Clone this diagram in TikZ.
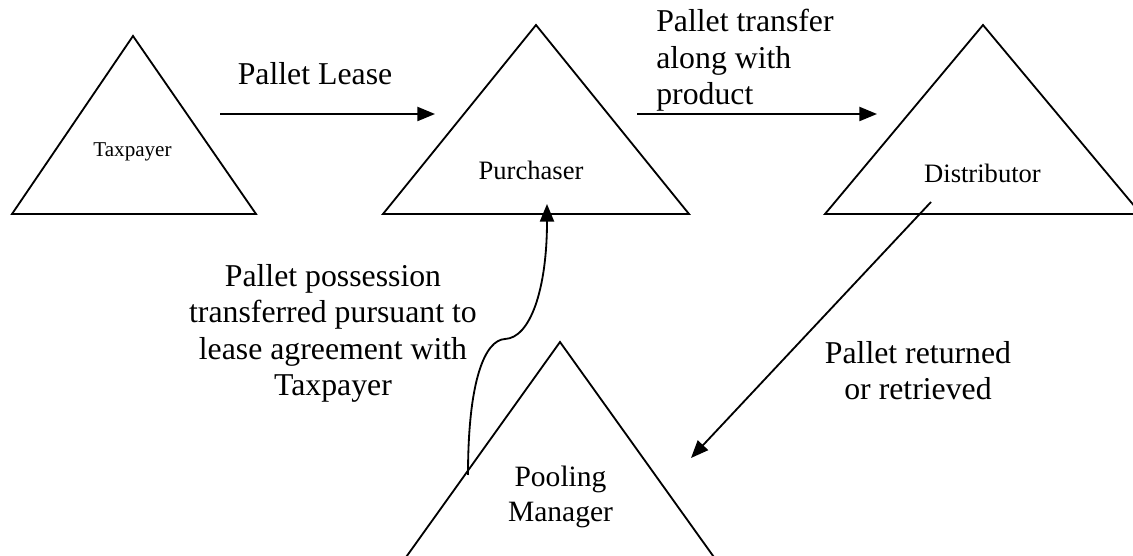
\documentclass[tikz,border=0pt]{standalone}
\usepackage{fontspec}
\setmainfont{Liberation Serif}
\usetikzlibrary{arrows.meta}

\tikzset{
	party/.style={line width=1.3pt, line join=miter},
	flow/.style={line width=1.3pt, -{Triangle[length=12.5pt,width=10pt]}},
	flowtext/.style={inner sep=0pt, font=\fontsize{22.6}{26}\selectfont},
	partytext/.style={inner sep=0pt, anchor=base}
}

\begin{document}
\begin{tikzpicture}[x=0.025cm, y=-0.025cm]
	\clip (0,0) rectangle (1133,556);
	% the four parties
	\draw[party] (12,214) -- (133,36) -- (256,214) -- cycle;
	\draw[party] (383,214) -- (536,25) -- (689,214) -- cycle;
	\draw[party] (825,214) -- (983,25) -- (1141,214) -- cycle;
	\draw[party] (404,560) -- (560,342) -- (716,560) -- cycle;
	\node[partytext, font=\fontsize{15}{18}\selectfont] (taxpayer) at (132.5,157) {Taxpayer};
	\node[partytext, font=\fontsize{18.9}{22}\selectfont] (purchaser) at (531,180) {Purchaser};
	\node[partytext, font=\fontsize{18.9}{22}\selectfont] (distributor) at (982.5,183) {Distributor};
	\node[partytext, align=center, font=\fontsize{21}{25}\selectfont] (pooling) at (560.5,522) {Pooling\\Manager};
	% arrow ends
	\coordinate (leasestart) at (220,114);
	\coordinate (leaseend) at (435,114);
	\coordinate (transstart) at (637,114);
	\coordinate (transend) at (877,114);
	\coordinate (returnstart) at (931,202);
	\coordinate (returnend) at (691,458);
	\coordinate (possstart) at (468,475);
	\coordinate (posskink) at (505,339);
	\coordinate (possend) at (547,204);
	\draw[flow] (leasestart) -- (leaseend);
	\draw[flow] (transstart) -- (transend);
	\draw[flow] (returnstart) -- (returnend);
	\draw[flow] (possstart) .. controls (468,380) and (485,340) .. (posskink)
		.. controls (530,338) and (547,290) .. (possend);
	% labels
	\node[flowtext, anchor=base] (leaselabel) at (315,85) {Pallet Lease};
	\node[flowtext, anchor=base west, align=left] (translabel) at (656,105) {Pallet transfer\\along with\\product};
	\node[flowtext, anchor=base, align=center] (returnlabel) at (918,400) {Pallet returned\\or retrieved};
	\node[flowtext, anchor=base, align=center] (posslabel) at (333,396) {Pallet possession\\transferred pursuant to\\lease agreement with\\Taxpayer};
\end{tikzpicture}
\end{document}
